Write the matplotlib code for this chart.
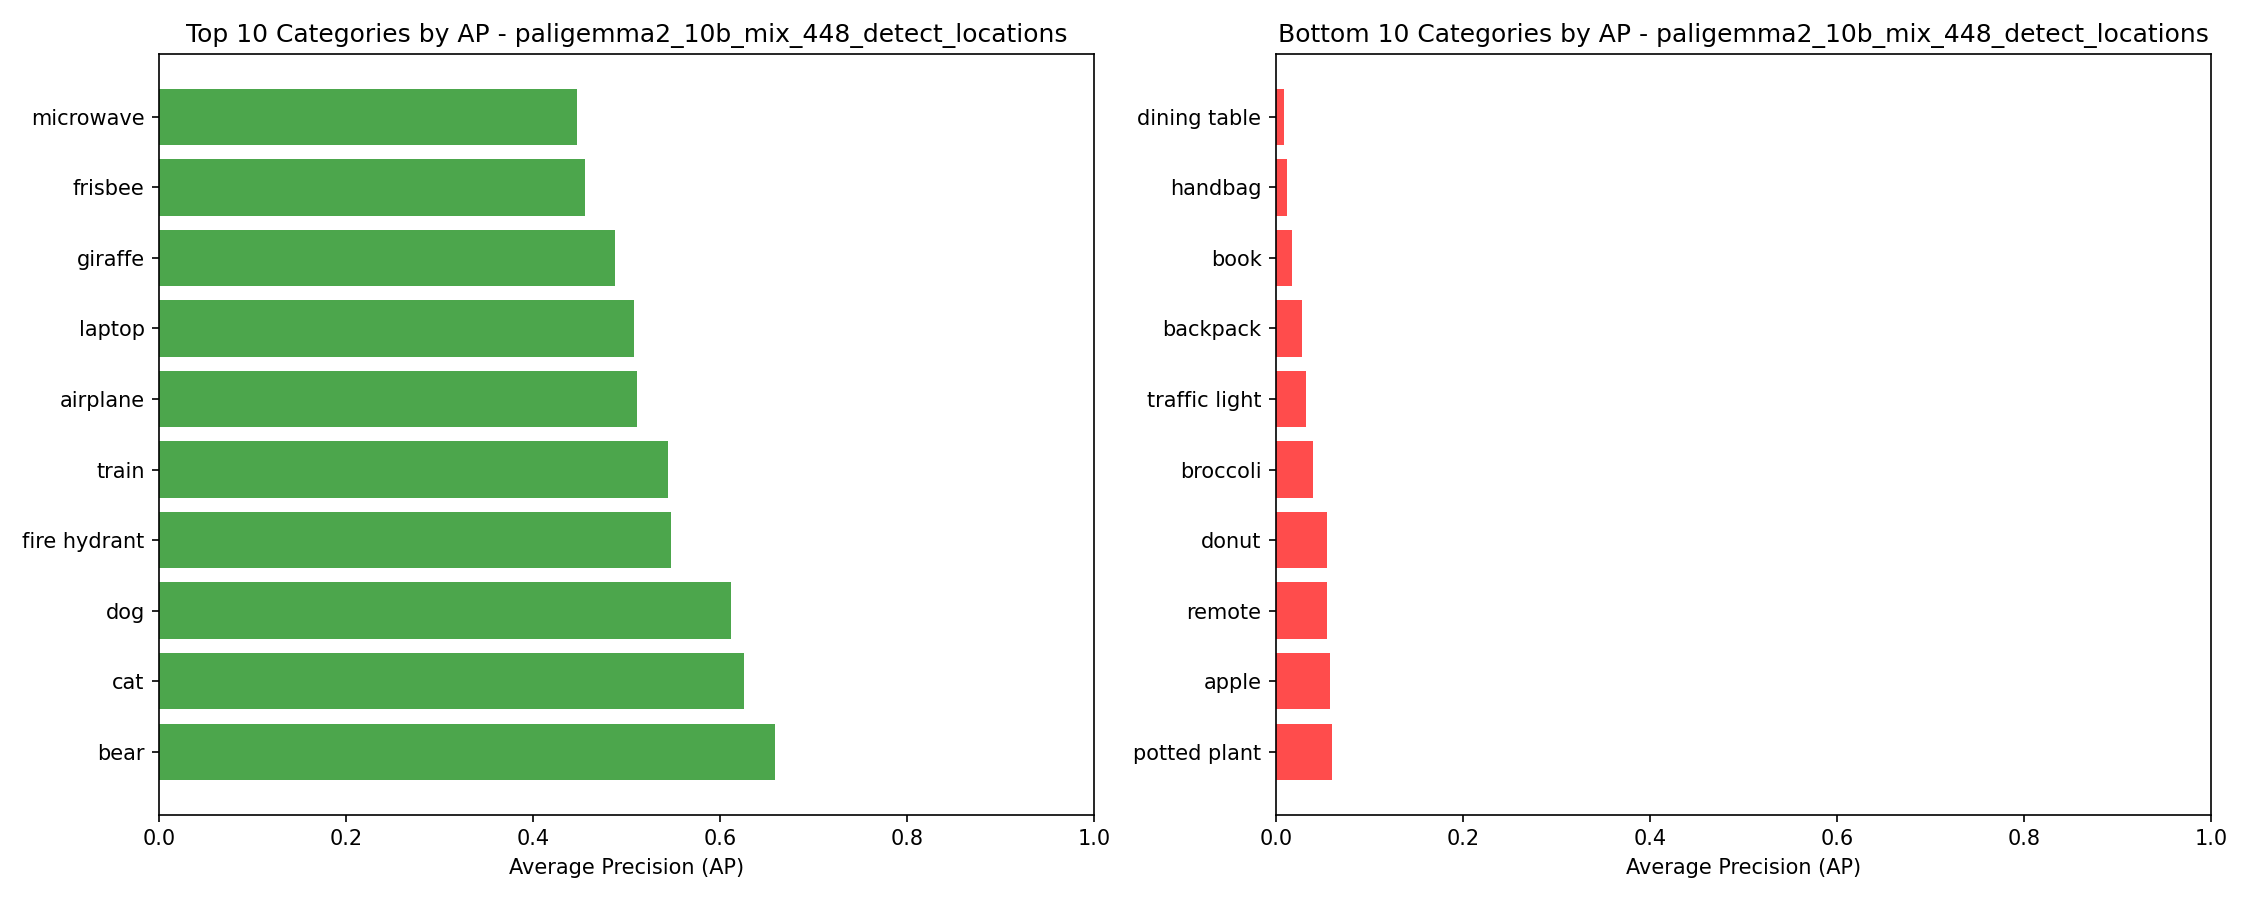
import matplotlib
matplotlib.use('Agg')
import matplotlib.pyplot as plt

model = 'paligemma2_10b_mix_448_detect_locations'

top_names = ['bear', 'cat', 'dog', 'fire hydrant', 'train', 'airplane',
             'laptop', 'giraffe', 'frisbee', 'microwave']
top_ap = [0.659, 0.625, 0.611, 0.547, 0.544, 0.511, 0.508, 0.487, 0.455, 0.447]

bottom_names = ['potted plant', 'apple', 'remote', 'donut', 'broccoli',
                'traffic light', 'backpack', 'book', 'handbag', 'dining table']
bottom_ap = [0.060, 0.058, 0.054, 0.054, 0.040, 0.032, 0.028, 0.017, 0.012, 0.009]

fig, (ax1, ax2) = plt.subplots(1, 2, figsize=(15, 6), dpi=150)

ax1.barh(range(len(top_names)), top_ap, color='green', alpha=0.7)
ax1.set_yticks(range(len(top_names)))
ax1.set_yticklabels(top_names)
ax1.set_xlim(0, 1)
ax1.set_xlabel('Average Precision (AP)')
ax1.set_title(f'Top 10 Categories by AP - {model}')

ax2.barh(range(len(bottom_names)), bottom_ap, color='red', alpha=0.7)
ax2.set_yticks(range(len(bottom_names)))
ax2.set_yticklabels(bottom_names)
ax2.set_xlim(0, 1)
ax2.set_xlabel('Average Precision (AP)')
ax2.set_title(f'Bottom 10 Categories by AP - {model}')

plt.tight_layout()
plt.savefig('out.png')
